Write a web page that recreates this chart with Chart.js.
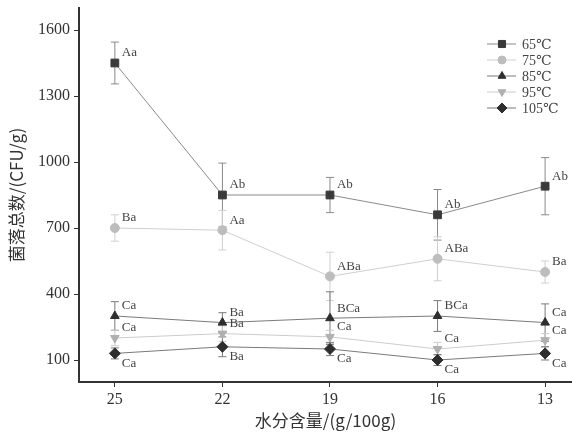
<!DOCTYPE html>
<html>
<head>
<meta charset="utf-8">
<script src="https://cdn.jsdelivr.net/npm/chart.js@4"></script>
<style>
  html, body { margin: 0; padding: 0; background: #fff; }
  #wrap { width: 572px; height: 437px; position: relative; }
</style>
</head>
<body>
<div id="wrap"><canvas id="bacteriaChart"></canvas></div>
<script>
// moisture content categories (x axis, descending)
const moisture = [25, 22, 19, 16, 13];
const yTicks = [100, 400, 700, 1000, 1300, 1600];

// total colony count per drying temperature
const t65 = [1450, 850, 850, 760, 890];
const t75 = [700, 690, 480, 560, 500];
const t85 = [300, 270, 290, 300, 270];
const t95 = [200, 220, 205, 150, 190];
const t105 = [130, 160, 150, 100, 130];

// standard deviations
const err65 = [95, 145, 80, 115, 130];
const err75 = [60, 90, 110, 100, 50];
const err85 = [65, 45, 120, 70, 85];
const err95 = [35, 35, 30, 30, 30];
const err105 = [25, 45, 30, 25, 30];

// significance letters
const sig65 = ["Aa", "Ab", "Ab", "Ab", "Ab"];
const sig75 = ["Ba", "Aa", "ABa", "ABa", "Ba"];
const sig85 = ["Ca", "Ba", "BCa", "BCa", "Ca"];
const sig95 = ["Ca", "Ba", "Ca", "Ca", "Ca"];
const sig105 = ["Ca", "Ba", "Ca", "Ca", "Ca"];

const seriesNames = ["65℃", "75℃", "85℃", "95℃", "105℃"];

const serif = "'Liberation Serif', 'DejaVu Serif', serif";
const cjk = "'Noto Sans CJK SC', 'Noto Sans', sans-serif";

function makeSeries(label, values, errs, sigs, pointStyle, rotation, radius, color, lineColor, below) {
  return {
    label: label,
    data: moisture.map((m, i) => ({ x: m, y: values[i] })),
    errors: errs,
    sigs: sigs,
    sigBelow: below,
    borderColor: lineColor,
    backgroundColor: color,
    pointBackgroundColor: color,
    pointBorderColor: color,
    pointStyle: pointStyle,
    rotation: rotation,
    pointRadius: radius,
    borderWidth: 1,
    tension: 0,
    fill: false,
  };
}

// error bars drawn under the markers
const errorBars = {
  id: "errorBars",
  beforeDatasetsDraw(chart) {
    const ctx = chart.ctx;
    const x = chart.scales.x, y = chart.scales.y;
    ctx.save();
    ctx.lineWidth = 1;
    chart.data.datasets.forEach((ds) => {
      ctx.strokeStyle = ds.borderColor;
      ds.data.forEach((p, i) => {
        const px = x.getPixelForValue(p.x);
        const top = y.getPixelForValue(p.y + ds.errors[i]);
        const bot = y.getPixelForValue(p.y - ds.errors[i]);
        ctx.beginPath();
        ctx.moveTo(px, top); ctx.lineTo(px, bot);
        ctx.moveTo(px - 4, top); ctx.lineTo(px + 4, top);
        ctx.moveTo(px - 4, bot); ctx.lineTo(px + 4, bot);
        ctx.stroke();
      });
    });
    ctx.restore();
  },
};

// significance letters next to each point
const sigLabels = {
  id: "sigLabels",
  afterDatasetsDraw(chart) {
    const ctx = chart.ctx;
    const x = chart.scales.x, y = chart.scales.y;
    ctx.save();
    ctx.font = "13px " + serif;
    ctx.fillStyle = "#444";
    ctx.textAlign = "left";
    ctx.textBaseline = "middle";
    chart.data.datasets.forEach((ds) => {
      ds.data.forEach((p, i) => {
        const px = x.getPixelForValue(p.x);
        const py = y.getPixelForValue(p.y);
        ctx.fillText(ds.sigs[i], px + 7, py + (ds.sigBelow ? 10 : -10));
      });
    });
    ctx.restore();
  },
};

// legend in top-right corner, line + marker
const cornerLegend = {
  id: "cornerLegend",
  afterDraw(chart) {
    const ctx = chart.ctx;
    ctx.save();
    chart.data.datasets.forEach((ds, i) => {
      const cy = 44 + i * 16;
      ctx.strokeStyle = ds.borderColor;
      ctx.lineWidth = 1;
      ctx.beginPath();
      ctx.moveTo(487, cy); ctx.lineTo(516, cy);
      ctx.stroke();
      ctx.fillStyle = ds.pointBackgroundColor;
      ctx.strokeStyle = ds.pointBorderColor;
      Chart.helpers.drawPoint(ctx, {
        pointStyle: ds.pointStyle,
        rotation: ds.rotation,
        radius: ds.pointRadius - 0.5,
        borderWidth: 1,
      }, 502, cy);
      ctx.fillStyle = "#444";
      ctx.font = "14px " + serif;
      ctx.textBaseline = "middle";
      ctx.fillText(ds.label, 522, cy + 1);
    });
    ctx.restore();
  },
};

new Chart(document.getElementById("bacteriaChart"), {
  type: "line",
  data: {
    datasets: [
      makeSeries(seriesNames[0], t65, err65, sig65, "rect", 0, 5.5, "#3a3a3a", "#8a8a8a", false),
      makeSeries(seriesNames[1], t75, err75, sig75, "circle", 0, 4.5, "#bdbdbd", "#cfcfcf", false),
      makeSeries(seriesNames[2], t85, err85, sig85, "triangle", 0, 5, "#2e2e2e", "#7a7a7a", false),
      makeSeries(seriesNames[3], t95, err95, sig95, "triangle", 180, 5, "#b0b0b0", "#cccccc", false),
      makeSeries(seriesNames[4], t105, err105, sig105, "rectRot", 0, 5.5, "#2e2e2e", "#7a7a7a", true),
    ],
  },
  options: {
    responsive: true,
    maintainAspectRatio: false,
    animation: false,
    layout: { autoPadding: false, padding: { top: 8, right: 0, left: 0, bottom: 0 } },
    plugins: {
      legend: { display: false },
      tooltip: { enabled: false },
    },
    scales: {
      x: {
        type: "linear",
        reverse: true,
        min: 12.25,
        max: 26,
        afterBuildTicks: (scale) => {
          scale.ticks = moisture.map((v) => ({ value: v }));
        },
        afterFit: (scale) => {
          scale.height = 55;
          scale.paddingLeft = 0;
          scale.paddingRight = 0;
        },
        grid: {
          drawOnChartArea: false,
          drawTicks: true,
          tickLength: 5,
          tickColor: "#333",
          tickWidth: 1,
        },
        border: { color: "#333", width: 2 },
        ticks: {
          color: "#333",
          font: { family: serif, size: 16 },
          padding: 3,
          maxRotation: 0,
          autoSkip: false,
          callback: (v) => String(v),
        },
        title: {
          display: true,
          text: "水分含量/(g/100g)",
          color: "#333",
          font: { family: cjk, size: 17 },
          padding: { top: 0, bottom: 6 },
        },
      },
      y: {
        min: 0,
        max: 1700,
        afterBuildTicks: (scale) => {
          scale.ticks = yTicks.map((v) => ({ value: v }));
        },
        afterFit: (scale) => {
          scale.width = 79;
          scale.paddingTop = 0;
          scale.paddingBottom = 0;
        },
        grid: {
          drawOnChartArea: false,
          tickLength: 5,
          tickColor: "#333",
          tickWidth: 1,
        },
        border: { color: "#333", width: 2 },
        ticks: {
          color: "#333",
          font: { family: serif, size: 16 },
          padding: 4,
          callback: (v) => String(v),
        },
        title: {
          display: true,
          text: "菌落总数/(CFU/g)",
          color: "#333",
          font: { family: cjk, size: 17 },
          padding: { top: 6, bottom: 0 },
        },
      },
    },
  },
  plugins: [errorBars, sigLabels, cornerLegend],
});
</script>
</body>
</html>
